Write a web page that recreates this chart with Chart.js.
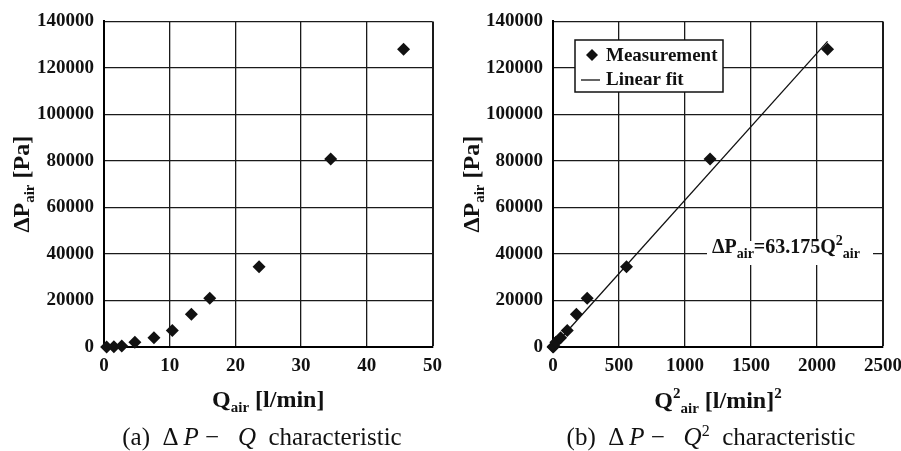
<!DOCTYPE html>
<html>
<head>
<meta charset="utf-8">
<script src="https://cdn.jsdelivr.net/npm/chart.js@4.4.1/dist/chart.umd.min.js"></script>
<style>
  html, body { margin: 0; padding: 0; background: #fff; width: 901px; height: 451px; overflow: hidden; }
  body { position: relative; }
  canvas { position: absolute; top: 0; }
  #chartA { left: 0; }
  #chartB { left: 450px; }
  .caption {
    position: absolute; top: 424px; line-height: 25px;
    font-family: "Liberation Serif", "Times New Roman", serif; font-size: 25px;
    color: #111; white-space: pre; transform: translateX(-50%);
  }
  .caption sup { font-size: 16px; vertical-align: 9px; line-height: 0; }
</style>
</head>
<body>
<canvas id="chartA" width="450" height="451"></canvas>
<canvas id="chartB" width="470" height="451"></canvas>
<div class="caption" style="left:262px">(a)  Δ <i>P</i> −   <i>Q</i>  characteristic</div>
<div class="caption" style="left:711px">(b)  Δ <i>P</i> −   <i>Q</i><sup>2</sup>  characteristic</div>

<script>
const qAir = [0.4, 1.5, 2.7, 4.7, 7.6, 10.4, 13.3, 16.1, 23.6, 34.5, 45.6];
const qAirSq = [0.2, 2.3, 7.3, 22, 58, 108, 177, 259, 557, 1190, 2080];
const dpAir = [0, 100, 400, 2000, 4000, 7100, 14100, 21000, 34500, 80800, 128000];

// linear fit dP = 63.175 Q^2 (end points)
const fitX = [0, 2080];
const fitY = [0, 131400];

const FONT = '"Liberation Serif", "Times New Roman", serif';
const INK = '#111';

// rich text pieces (subscripts / superscripts)
const titleQ = [{ text: 'Q', size: 24 }, { text: 'air', size: 15, dy: 5 }, { text: ' [l/min]', size: 24 }];
const titleQ2 = [{ text: 'Q', size: 24 }, { text: '2', size: 15, dy: -10 }, { text: 'air', size: 15, dy: 5 },
                 { text: ' [l/min]', size: 24 }, { text: '2', size: 15, dy: -10 }];
const titleDP = [{ text: 'ΔP', size: 24 }, { text: 'air', size: 15, dy: 5 }, { text: ' [Pa]', size: 24 }];
const equation = [{ text: 'ΔP', size: 20 }, { text: 'air', size: 14, dy: 5 }, { text: '=63.175Q', size: 20 },
                  { text: '2', size: 14, dy: -8 }, { text: 'air', size: 14, dy: 5 }];

function richWidth(ctx, segs) {
  let w = 0;
  for (const s of segs) {
    ctx.font = `bold ${s.size}px ${FONT}`;
    w += ctx.measureText(s.text).width;
  }
  return w;
}

function drawRich(ctx, segs, x, y) {
  let cx = x;
  ctx.textAlign = 'left';
  ctx.textBaseline = 'alphabetic';
  for (const s of segs) {
    ctx.font = `bold ${s.size}px ${FONT}`;
    ctx.fillText(s.text, cx, y + (s.dy || 0));
    cx += ctx.measureText(s.text).width;
  }
}

function diamond(ctx, x, y, r) {
  ctx.beginPath();
  ctx.moveTo(x, y - r);
  ctx.lineTo(x + r, y);
  ctx.lineTo(x, y + r);
  ctx.lineTo(x - r, y);
  ctx.closePath();
  ctx.fill();
}

const richTitles = {
  id: 'richTitles',
  afterDraw(chart, args, opts) {
    const ctx = chart.ctx, a = chart.chartArea;
    ctx.save();
    ctx.fillStyle = INK;
    const xw = richWidth(ctx, opts.x);
    drawRich(ctx, opts.x, (a.left + a.right) / 2 - xw / 2, opts.xBase);
    ctx.translate(opts.yBase, (a.top + a.bottom) / 2);
    ctx.rotate(-Math.PI / 2);
    const yw = richWidth(ctx, opts.y);
    drawRich(ctx, opts.y, -yw / 2, 0);
    ctx.restore();
  }
};

const boxLegend = {
  id: 'boxLegend',
  afterDraw(chart, args, opts) {
    if (!opts.show) return;
    const ctx = chart.ctx;
    const ds = chart.data.datasets;
    ctx.save();
    // legend box
    ctx.fillStyle = '#fff';
    ctx.fillRect(125, 40, 148, 52);
    ctx.strokeStyle = INK;
    ctx.lineWidth = 1.5;
    ctx.strokeRect(125, 40, 148, 52);
    ctx.fillStyle = INK;
    diamond(ctx, 142, 55, 6);
    ctx.beginPath();
    ctx.moveTo(131, 80);
    ctx.lineTo(150, 80);
    ctx.lineWidth = 1.3;
    ctx.stroke();
    ctx.font = `bold 19px ${FONT}`;
    ctx.textAlign = 'left';
    ctx.fillText(ds[0].label, 156, 61);
    ctx.fillText(ds[1].label, 156, 85);
    // fit equation on the 40000 grid line
    ctx.fillStyle = '#fff';
    ctx.fillRect(257, 241, 166, 24);
    ctx.fillStyle = INK;
    drawRich(ctx, equation, 262, 253);
    ctx.restore();
  }
};

function scales(xMax, xStep, yWidth) {
  const tickFont = { family: FONT, size: 19, weight: 'bold' };
  return {
    x: {
      type: 'linear', min: 0, max: xMax,
      ticks: { stepSize: xStep, font: tickFont, color: INK, padding: 8, maxRotation: 0, callback: v => String(v) },
      grid: {
        color: '#1a1a1a', drawTicks: false,
        lineWidth: c => (c.tick && c.tick.value === xMax ? 2 : 1.3)
      },
      border: { display: true, color: '#000', width: 2 },
      afterFit(s) { s.height = 104; }
    },
    y: {
      type: 'linear', min: 0, max: 140000,
      ticks: { stepSize: 20000, font: tickFont, color: INK, padding: 10, callback: v => String(v) },
      grid: { color: '#1a1a1a', lineWidth: 1.3, drawTicks: false },
      border: { display: true, color: '#000', width: 2 },
      afterFit(s) { s.width = yWidth; }
    }
  };
}

const pointStyle = {
  pointStyle: 'rectRot', pointRadius: 6.5, pointHoverRadius: 6.5,
  backgroundColor: INK, borderColor: INK, borderWidth: 0, clip: false
};

new Chart(document.getElementById('chartA'), {
  type: 'scatter',
  data: {
    datasets: [{
      label: 'Measurement',
      data: qAir.map((q, i) => ({ x: q, y: dpAir[i] })),
      ...pointStyle
    }]
  },
  options: {
    responsive: false, animation: false,
    layout: { padding: { top: 20, right: 16, left: 0, bottom: 0 } },
    plugins: {
      legend: { display: false }, tooltip: { enabled: false },
      richTitles: { x: titleQ, xBase: 407, y: titleDP, yBase: 29 },
      boxLegend: { show: false }
    },
    scales: scales(50, 10, 104)
  },
  plugins: [richTitles, boxLegend]
});

new Chart(document.getElementById('chartB'), {
  type: 'scatter',
  data: {
    datasets: [{
      label: 'Measurement',
      data: qAirSq.map((q, i) => ({ x: q, y: dpAir[i] })),
      ...pointStyle
    }, {
      label: 'Linear fit',
      data: fitX.map((x, i) => ({ x: x, y: fitY[i] })),
      showLine: true, pointRadius: 0, borderColor: INK, borderWidth: 1.3, clip: false
    }]
  },
  options: {
    responsive: false, animation: false,
    layout: { padding: { top: 20, right: 37, left: 0, bottom: 0 } },
    plugins: {
      legend: { display: false }, tooltip: { enabled: false },
      richTitles: { x: titleQ2, xBase: 408, y: titleDP, yBase: 29 },
      boxLegend: { show: true }
    },
    scales: scales(2500, 500, 103)
  },
  plugins: [richTitles, boxLegend]
});
</script>
</body>
</html>
